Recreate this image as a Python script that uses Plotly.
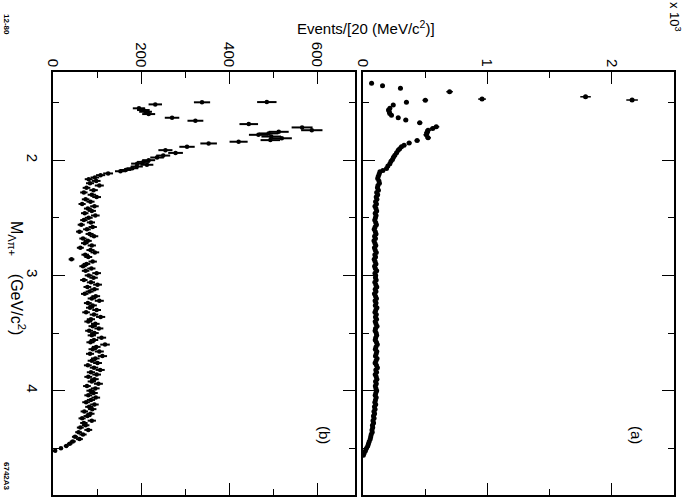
import numpy as np
import plotly.graph_objects as go

# ---------------- data ----------------
# Panel (a): low-mass region, individual points (M in GeV/c^2, events per 20 MeV)
a_low_m = [1.333, 1.354, 1.377, 1.406, 1.450, 1.470, 1.478, 1.480, 1.498, 1.522, 1.550, 1.565,
           1.580, 1.595, 1.610, 1.632, 1.652, 1.676, 1.710, 1.725, 1.740, 1.760, 1.780, 1.806,
           1.830, 1.850, 1.870, 1.884, 1.900, 1.913, 1.935, 1.957, 1.975, 1.994, 2.010, 2.030,
           2.050, 2.072, 2.090, 2.100, 2.120, 2.140, 2.160]
a_low_v = [69, 157, 301, 696, 1789, 957, 2163, 501, 349, 243, 216, 205,
           211, 215, 229, 283, 344, 456, 589, 560, 523, 515, 509, 523,
           435, 371, 330, 309, 295, 283, 270, 256, 245, 237, 225, 216,
           200, 189, 160, 136, 130, 123, 118]
# Panel (a): 20 MeV bins starting at 2.18 GeV/c^2
a_start, bin_w = 2.18, 0.02
a_flat_v = [128, 132, 120, 116, 124, 110, 118, 106, 112, 101, 108, 96, 104, 110, 98, 105, 100,
            94, 102, 108, 97, 90, 99, 105, 93, 100, 88, 96, 103, 92, 98, 107, 95, 101, 90, 97, 104, 93, 99, 110, 96, 102,
            100, 106, 95, 103, 111, 98, 104, 92, 101, 108, 97, 105, 99, 112, 103, 96, 107, 100, 109, 98, 104, 113, 101, 97, 106,
            110, 102, 98, 108, 115, 104, 99, 111, 106, 100, 113, 105, 97, 108, 116, 103, 109, 98, 106, 112, 101, 107, 99, 104, 110,
            103, 98, 106, 100, 95, 102, 92, 97, 88, 93, 84, 89, 80, 85, 76,
            78, 72, 74, 66, 62, 58, 50, 44, 38, 28, 20, 10, 3]

# Panel (b): low-mass region, individual points
b_low_m = [1.496, 1.498, 1.516, 1.550, 1.565, 1.580, 1.600, 1.632, 1.658, 1.687, 1.716, 1.740,
           1.754, 1.768, 1.780, 1.795, 1.810, 1.826, 1.840, 1.855, 1.884, 1.913, 1.937, 1.960,
           1.977, 2.000, 2.015, 2.030, 2.040, 2.055, 2.070, 2.085, 2.096, 2.115, 2.130, 2.150, 2.165]
b_low_v = [485, 338, 232, 195, 205, 210, 217, 270, 323, 444, 565, 587,
           512, 489, 466, 495, 519, 493, 421, 353, 304, 255, 278, 250,
           236, 217, 205, 191, 213, 190, 180, 165, 153, 125, 108, 95, 81]
# Panel (b): 20 MeV bins starting at 2.18 GeV/c^2
b_start = 2.18
b_flat_v = [98, 84, 105, 76, 92, 70, 88, 99, 74, 85, 66, 94, 79, 88, 72, 96, 81,
            70, 86, 64, 90, 77, 60, 83, 93, 68, 79, 72, 88, 62, 85, 95, 73, 80, 42, 90, 76, 68, 87, 74, 99, 81,
            92, 70, 86, 101, 78, 94, 83, 72, 97, 88, 105, 79, 90, 84, 99, 75, 93, 108, 86, 80, 96, 90, 104, 82, 94,
            88, 110, 93, 85, 118, 98, 90, 105, 84, 112, 96, 88, 101, 79, 93, 107, 86, 99, 80, 94, 88, 103, 77, 96, 85,
            92, 80, 97, 86, 75, 94, 82, 89, 71, 85, 78, 66, 88, 70, 74,
            62, 80, 58, 68, 50, 60, 45, 38, 30, 18, 5]

b_ticks = [0, 200, 400, 600]
b_ticktext = ["0", "200", "400", "600"]
a_ticks = [0, 1000, 2000]
a_ticktext = ["0", "1", "2"]
m_ticks = [2, 3, 4]

# ---------------- assemble ----------------
a_m = list(a_low_m) + list(np.round(a_start + bin_w * np.arange(len(a_flat_v)), 3))
a_v = list(a_low_v) + list(a_flat_v)
b_m = list(b_low_m) + list(np.round(b_start + bin_w * np.arange(len(b_flat_v)), 3))
b_v = list(b_low_v) + list(b_flat_v)
a_err = np.sqrt(np.array(a_v, float))
b_err = np.sqrt(np.array(b_v, float))

W, H = 689, 498
def px(x):
    return x / W
def py(y):
    return 1 - y / H

fig = go.Figure()
fig.add_trace(go.Scatter(
    x=b_v, y=b_m, mode="markers", xaxis="x", yaxis="y",
    marker=dict(color="black", size=4.5),
    error_x=dict(type="data", array=b_err, color="black", thickness=2, width=0),
    showlegend=False))
fig.add_trace(go.Scatter(
    x=a_v, y=a_m, mode="markers", xaxis="x2", yaxis="y2",
    marker=dict(color="black", size=5),
    error_x=dict(type="data", array=a_err, color="black", thickness=1.5, width=0),
    showlegend=False))

FONT = "Liberation Sans, Arial, sans-serif"
common = dict(showline=True, linecolor="black", linewidth=1.6, mirror="ticks",
              ticks="inside", tickcolor="black", tickwidth=1.4, ticklen=12,
              showgrid=False, zeroline=False, tickangle=90,
              tickfont=dict(family=FONT, size=15, color="black"))

ytop, ybot = 72, 495
fig.update_layout(
    width=W, height=H, margin=dict(l=0, r=0, t=0, b=0),
    paper_bgcolor="white", plot_bgcolor="white",
    xaxis=dict(domain=[px(53), px(355)], range=[0, 685], side="top", anchor="y",
               tickvals=b_ticks, showticklabels=False,
               minor=dict(dtick=100, ticklen=6, ticks="inside", tickcolor="black"), **common),
    xaxis2=dict(domain=[px(363), px(674)], range=[0, 2500], side="top", anchor="y2",
                tickvals=a_ticks, showticklabels=False,
                minor=dict(dtick=500, ticklen=6, ticks="inside", tickcolor="black"), **common),
    yaxis=dict(domain=[py(ybot), py(ytop)], range=[4.905, 1.235], anchor="x",
               tickvals=m_ticks, minor=dict(dtick=0.5, ticklen=6, ticks="inside", tickcolor="black"),
               ticklabelstandoff=6, **common),
    yaxis2=dict(domain=[py(ybot), py(ytop)], range=[4.905, 1.235], anchor="x2", matches="y",
                tickvals=m_ticks, showticklabels=False,
                minor=dict(dtick=0.5, ticklen=6, ticks="inside", tickcolor="black"), **common),
)

def ann(text, x, y, size=14, angle=0, xref="paper"):
    fig.add_annotation(text=text, x=x if xref != "paper" else px(x), y=py(y),
                       xref=xref, yref="paper",
                       showarrow=False, textangle=angle,
                       font=dict(family=FONT, size=size, color="black"),
                       xanchor="center", yanchor="middle")

# rotated tick labels of the event axes, ending just above the frame
LBL_BOTTOM = 67
for v, t in zip(b_ticks, b_ticktext):
    ann(t, v, LBL_BOTTOM - len(t) * 8.4 / 2, size=15, angle=90, xref="x")
for v, t in zip(a_ticks, a_ticktext):
    ann(t, v, LBL_BOTTOM - len(t) * 8.4 / 2, size=15, angle=90, xref="x2")

ann("Events/[20 (MeV/c<sup>2</sup>)]", 366, 27, size=15)
ann("x 10<sup>3</sup>", 675, 17, size=13, angle=90)
ann("M<sub>Λπ+</sub>    (GeV/c<sup>2</sup>)", 17, 278, size=16, angle=90)
ann("(a)", 637, 435, size=15, angle=90)
ann("(b)", 325, 435, size=15, angle=90)
ann("<b>12-80</b>", 7, 24, size=8, angle=90)
ann("<b>6742A3</b>", 7, 476, size=8, angle=90)

fig.write_html("out.html")
